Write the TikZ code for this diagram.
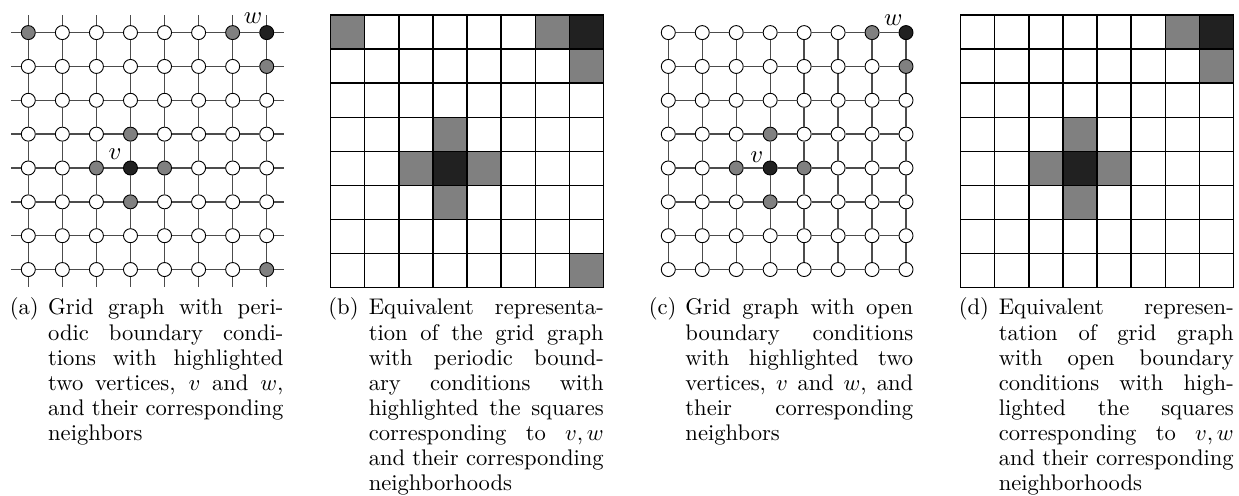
\documentclass[tikz,border=0pt]{standalone}
\begin{document}
\tikzset{
  vert/.style={circle, draw=black, line width=0.4pt, minimum size=6.2pt, inner sep=0pt, fill=white},
  nbr/.style={fill=black!50},
  ctr/.style={fill=black!87},
  gedge/.style={draw=black!70, line width=0.6pt},
  cellbox/.style={rectangle, draw=black, line width=0.6pt, minimum size=15.085pt, inner sep=0pt, fill=white},
  lbl/.style={font=\fontsize{11}{13}\selectfont, inner sep=0pt},
  capl/.style={anchor=base west, inner sep=0pt, font=\fontsize{10}{11.1}\selectfont},
  % highlighted vertices / cells
  pa-3-4/.style={ctr}, pa-3-3/.style={nbr}, pa-2-4/.style={nbr}, pa-4-4/.style={nbr}, pa-3-5/.style={nbr},
  pa-7-0/.style={ctr}, pa-6-0/.style={nbr}, pa-7-1/.style={nbr}, pa-0-0/.style={nbr}, pa-7-7/.style={nbr},
  pc-3-4/.style={ctr}, pc-3-3/.style={nbr}, pc-2-4/.style={nbr}, pc-4-4/.style={nbr}, pc-3-5/.style={nbr},
  pc-7-0/.style={ctr}, pc-6-0/.style={nbr}, pc-7-1/.style={nbr},
}
\newcommand{\jline}[1]{\makebox[\linewidth][s]{#1}\\}
\begin{tikzpicture}[x=0.4425pt,y=-0.4425pt]
\useasboundingbox (0,0) rectangle (1239,496);

% ---------- (a) periodic grid graph ----------
\foreach \i in {0,...,7}{
  \foreach \j in {0,...,7}{
    \node[vert, pa-\i-\j/.try] (a-\i-\j) at ({28.3+34.06*\i},{32.6+33.85*\j}) {};
  }
}
\foreach \j in {0,...,7}{
  \coordinate (aL\j) at ({28.3-17},{32.6+33.85*\j});
  \coordinate (aR\j) at ({28.3+34.06*7+17},{32.6+33.85*\j});
  \draw[gedge] (aL\j) -- (a-0-\j);
  \draw[gedge] (a-7-\j) -- (aR\j);
  \foreach \i in {0,...,6}{
    \pgfmathtruncatemacro\k{\i+1}
    \draw[gedge] (a-\i-\j) -- (a-\k-\j);
  }
}
\foreach \i in {0,...,7}{
  \coordinate (aT\i) at ({28.3+34.06*\i},{32.6-17.5});
  \coordinate (aB\i) at ({28.3+34.06*\i},{32.6+33.85*7+17});
  \draw[gedge] (aT\i) -- (a-\i-0);
  \draw[gedge] (a-\i-7) -- (aB\i);
  \foreach \j in {0,...,6}{
    \pgfmathtruncatemacro\k{\j+1}
    \draw[gedge] (a-\i-\j) -- (a-\i-\k);
  }
}
\node[lbl] (va) at (115,154) {$v$};
\node[lbl] (wa) at (253,18.3) {$w$};

% ---------- (b) periodic squares ----------
\foreach \i in {0,...,7}{
  \foreach \j in {0,...,7}{
    \node[cellbox, pa-\i-\j/.try] (b-\i-\j) at ({330.7+34.09*(\i+0.5)},{15+34.09*(\j+0.5)}) {};
  }
}

% ---------- (c) open grid graph ----------
\foreach \i in {0,...,7}{
  \foreach \j in {0,...,7}{
    \node[vert, pc-\i-\j/.try] (c-\i-\j) at ({668.3+33.96*\i},{32.6+33.85*\j}) {};
  }
}
\foreach \j in {0,...,7}{
  \foreach \i in {0,...,6}{
    \pgfmathtruncatemacro\k{\i+1}
    \draw[gedge] (c-\i-\j) -- (c-\k-\j);
    \draw[gedge] (c-\j-\i) -- (c-\j-\k);
  }
}
\node[lbl] (vc) at (756.7,156.7) {$v$};
\node[lbl] (wc) at (893.3,20) {$w$};

% ---------- (d) open squares ----------
\foreach \i in {0,...,7}{
  \foreach \j in {0,...,7}{
    \node[cellbox, pc-\i-\j/.try] (d-\i-\j) at ({960.7+34.09*(\i+0.5)},{15+34.09*(\j+0.5)}) {};
  }
}

% ---------- captions ----------
\node[capl] (capa-l) at (9.3,315) {(a)};
\node[capl] (capa) at (47.7,315) {\parbox[t]{104.1pt}{\fontsize{10}{11.1}\selectfont
\jline{Grid graph with peri-}
\jline{odic boundary condi-}
\jline{tions with highlighted}
\jline{two vertices, $v$ and $w$,}
\jline{and their corresponding}
neighbors}};

\node[capl] (capb-l) at (328,315) {(b)};
\node[capl] (capb) at (368.3,315) {\parbox[t]{104.0pt}{\fontsize{10}{11.1}\selectfont
\jline{Equivalent representa-}
\jline{tion of the grid graph}
\jline{with periodic bound-}
\jline{ary conditions with}
\jline{highlighted the squares}
\jline{corresponding to $v,w$}
\jline{and their corresponding}
neighborhoods}};

\node[capl] (capc-l) at (648.3,315) {(c)};
\node[capl] (capc) at (685,315) {\parbox[t]{100.8pt}{\fontsize{10}{11.1}\selectfont
\jline{Grid graph with open}
\jline{boundary conditions}
\jline{with highlighted two}
\jline{vertices, $v$ and $w$, and}
\jline{their corresponding}
neighbors}};

\node[capl] (capd-l) at (958.3,315) {(d)};
\node[capl] (capd) at (998.3,315) {\parbox[t]{104.0pt}{\fontsize{10}{11.1}\selectfont
\jline{Equivalent represen-}
\jline{tation of grid graph}
\jline{with open boundary}
\jline{conditions with high-}
\jline{lighted the squares}
\jline{corresponding to $v,w$}
\jline{and their corresponding}
neighborhoods}};
\end{tikzpicture}
\end{document}
